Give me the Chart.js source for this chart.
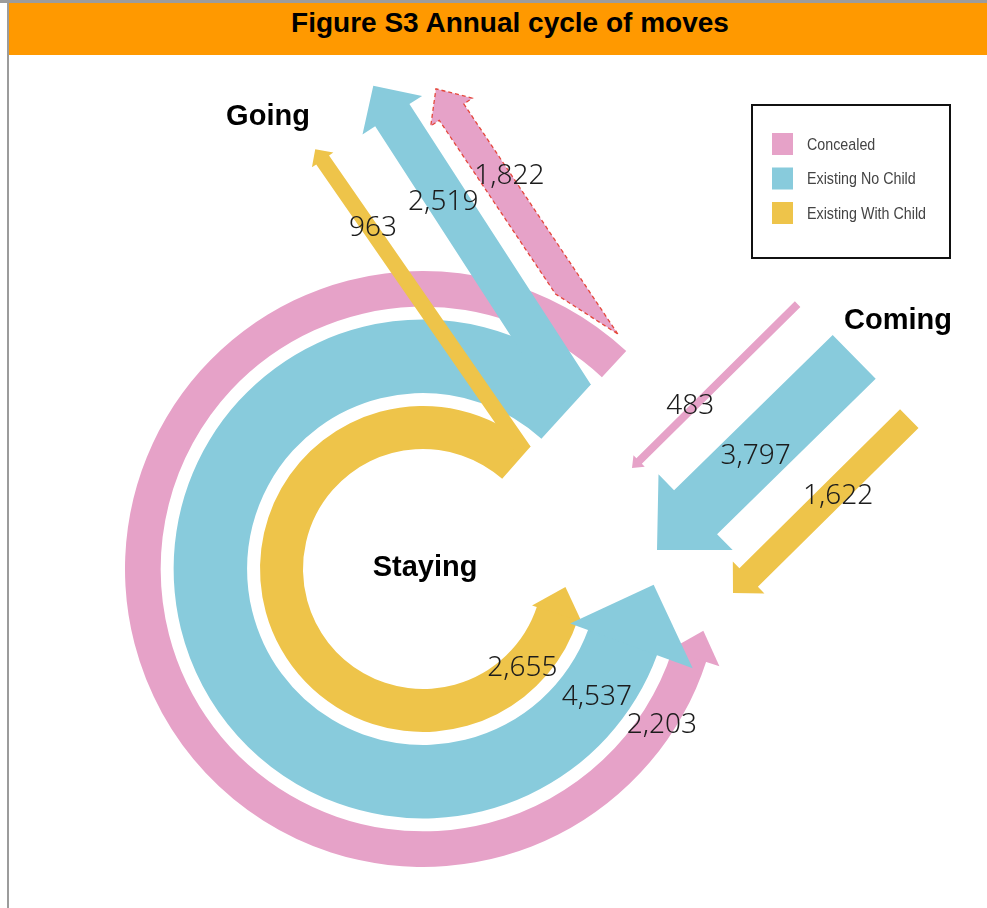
<!DOCTYPE html>
<html>
<head>
<meta charset="utf-8">
<script src="https://cdn.jsdelivr.net/npm/chart.js@4.4.1/dist/chart.umd.min.js"></script>
<style>
  html, body { margin: 0; padding: 0; background: #fff; }
  body { width: 987px; height: 908px; position: relative; overflow: hidden; }
  #frameTop { position: absolute; left: 0; top: 0; width: 987px; height: 3px; background: #9c9c9c; }
  #frameLeft { position: absolute; left: 7px; top: 0; width: 2px; height: 908px; background: #9c9c9c; }
  #header {
    position: absolute; left: 9px; top: 3px; width: 978px; height: 52px;
    box-sizing: border-box; padding-left: 24px;
    background: #ff9900; color: #000; text-align: center;
    font: bold 28px "Liberation Sans", Arial, sans-serif; line-height: 40px;
  }
  canvas { position: absolute; left: 0; top: 0; }
</style>
</head>
<body>
<div id="frameTop"></div>
<div id="frameLeft"></div>
<div id="header">Figure S3 Annual cycle of moves</div>
<canvas id="cycle" width="987" height="908"></canvas>
<script>
const groups = ["Concealed", "Existing No Child", "Existing With Child"];
const flows = ["Going", "Staying", "Coming"];
const staying = [2203, 4537, 2655];
const going = [1822, 2519, 963];
const coming = [483, 3797, 1622];

const colours = ["#e6a2c8", "#88cbdc", "#eec44a"];
const ringGap = 800; // white band between rings, same units as the counts

// ring ends, canvas degrees (clockwise from 3 o'clock)
const ringLayout = [
    { start: 18, end: 313, head: { inExt: 3, outExt: 14, len: 28 } },
    { start: 20, end: 312.3, head: { inExt: 19, outExt: 38, len: 64 } },
    { start: 18, end: 311.3, head: { inExt: 5, outExt: 4, len: 27 } }
];
const goingLayout = [
    { anchor: "outside", angle: -10.3, gapR: 5, dir: 236.2, len: 243, headW: 50, headL: 28, label: [166, 15, 0] },
    { anchor: "corner", dir: 237.1, len: 334, headW: 71, headL: 35, label: [231, -5, 0] },
    { anchor: "corner", dir: 235.3, len: 354, headW: 26, headL: 13, label: [271, 3, 0] }
];
const comingLayout = [
    { tip: [209, -101], dir: 135.3, len: 223, headW: 16, headL: 10, label: [151, 0, -4] },
    { tip: [234, -19], dir: 135.6, len: 222, headW: 106, headL: 54, label: [138, 0, 3] },
    { tip: [310, 24], dir: 135.3, len: 226, headW: 45, headL: 22, label: [100, 0, 7] }
];
const stayLabels = [[33.1, 5], [36.3, 3], [45, -1]];

const ringIndex = [];
const datasets = [];
groups.forEach((name, i) => {
    if (i > 0) {
        datasets.push({
            label: "", data: [1], weight: ringGap,
            backgroundColor: "rgba(0,0,0,0)",
            rotation: 0, circumference: 360,
            borderWidth: 0, hoverBorderWidth: 0, hoverOffset: 0
        });
    }
    ringIndex.push(datasets.length);
    datasets.push({
        label: name, data: [staying[i]], weight: staying[i],
        backgroundColor: colours[i],
        rotation: ringLayout[i].start + 90,
        circumference: ringLayout[i].end - ringLayout[i].start,
        borderWidth: 0, hoverBorderWidth: 0, hoverOffset: 0
    });
});

const rad = d => d * Math.PI / 180;
const fmt = v => v.toLocaleString("en-US");

function arrowPath(ctx, sx, sy, theta, len, w, headW, headL, cut) {
    const dx = Math.cos(theta), dy = Math.sin(theta);
    const nx = -dy, ny = dx;
    let cx = nx, cy = ny, f = w / 2;
    if (cut !== undefined) {
        cx = Math.cos(cut); cy = Math.sin(cut);
        f = (w / 2) / (cx * nx + cy * ny);
    }
    const ex = sx + dx * len, ey = sy + dy * len;
    ctx.beginPath();
    ctx.moveTo(sx + cx * f, sy + cy * f);
    ctx.lineTo(ex + nx * w / 2, ey + ny * w / 2);
    ctx.lineTo(ex + nx * headW / 2, ey + ny * headW / 2);
    ctx.lineTo(ex + dx * headL, ey + dy * headL);
    ctx.lineTo(ex - nx * headW / 2, ey - ny * headW / 2);
    ctx.lineTo(ex - nx * w / 2, ey - ny * w / 2);
    ctx.lineTo(sx - cx * f, sy - cy * f);
    ctx.closePath();
}

function stayingHead(ctx, arc, h) {
    const a = arc.startAngle, ca = Math.cos(a), sa = Math.sin(a);
    const tx = sa, ty = -ca; // travel direction (anticlockwise)
    const r1 = arc.innerRadius - h.inExt, r2 = arc.outerRadius + h.outExt, rm = (r1 + r2) / 2;
    ctx.beginPath();
    ctx.moveTo(arc.x + r1 * ca - tx, arc.y + r1 * sa - ty);
    ctx.lineTo(arc.x + r2 * ca - tx, arc.y + r2 * sa - ty);
    ctx.lineTo(arc.x + rm * ca + tx * h.len, arc.y + rm * sa + ty * h.len);
    ctx.closePath();
    ctx.fill();
}

function text(ctx, str, x, y, font, colour) {
    ctx.font = font;
    ctx.fillStyle = colour;
    ctx.textAlign = "center";
    ctx.textBaseline = "middle";
    ctx.fillText(str, x, y);
}

const flowPlugin = {
    id: "flows",
    afterDatasetsDraw(chart) {
        const ctx = chart.ctx;
        const arcs = ringIndex.map(i => chart.getDatasetMeta(i).data[0]);
        const k = (arcs[0].outerRadius - arcs[0].innerRadius) / staying[0]; // px per person
        const cx0 = arcs[0].x, cy0 = arcs[0].y;
        const numFont = "300 28px 'Noto Sans', sans-serif";
        const ink = "#1c1c1c";
        const goLabels = [];

        ctx.save();
        [0, 2, 1].forEach(i => {
            const arc = arcs[i], g = goingLayout[i];
            ctx.fillStyle = colours[i];
            stayingHead(ctx, arc, ringLayout[i].head);

            const w = going[i] * k, th = rad(g.dir);
            const nx = -Math.sin(th), ny = Math.cos(th);
            let sx, sy, cut;
            if (g.anchor === "corner") {
                const a = arc.endAngle;
                sx = arc.x + arc.outerRadius * Math.cos(a) - nx * w / 2;
                sy = arc.y + arc.outerRadius * Math.sin(a) - ny * w / 2;
            } else {
                const a = arc.endAngle + rad(g.angle), r = arc.outerRadius + g.gapR;
                sx = arc.x + r * Math.cos(a);
                sy = arc.y + r * Math.sin(a);
                cut = a + Math.PI / 2;
            }
            arrowPath(ctx, sx, sy, th, g.len, w, g.headW, g.headL, cut);
            ctx.fill();
            if (i === 0) {
                ctx.setLineDash([4, 3]);
                ctx.lineWidth = 1.3;
                ctx.strokeStyle = "#e4473c";
                ctx.stroke();
                ctx.setLineDash([]);
            }
            const t = g.label[0];
            goLabels[i] = [sx + Math.cos(th) * t + g.label[1], sy + Math.sin(th) * t + g.label[2]];
        });

        coming.forEach((v, i) => {
            const c = comingLayout[i], th = rad(c.dir);
            const tipX = cx0 + c.tip[0], tipY = cy0 + c.tip[1];
            const sx = tipX - Math.cos(th) * (c.len + c.headL);
            const sy = tipY - Math.sin(th) * (c.len + c.headL);
            ctx.fillStyle = colours[i];
            arrowPath(ctx, sx, sy, th, c.len, v * k, c.headW, c.headL);
            ctx.fill();
            const t = c.label[0];
            text(ctx, fmt(v), sx + Math.cos(th) * t + c.label[1], sy + Math.sin(th) * t + c.label[2], numFont, ink);
        });

        going.forEach((v, i) => text(ctx, fmt(v), goLabels[i][0], goLabels[i][1], numFont, ink));

        staying.forEach((v, i) => {
            const arc = arcs[i], [ang, dr] = stayLabels[i];
            const r = (arc.innerRadius + arc.outerRadius) / 2 + dr;
            text(ctx, fmt(v), arc.x + r * Math.cos(rad(ang)), arc.y + r * Math.sin(rad(ang)), numFont, ink);
        });

        const bold = "bold 29px 'Liberation Sans', Arial, sans-serif";
        text(ctx, flows[0], cx0 - 155, cy0 - 452, bold, "#000");
        text(ctx, flows[1], cx0 + 2, cy0 - 1, bold, "#000");
        text(ctx, flows[2], cx0 + 475, cy0 - 248, bold, "#000");

        // legend
        ctx.lineWidth = 2;
        ctx.strokeStyle = "#111";
        ctx.strokeRect(752, 105, 198, 153);
        groups.forEach((name, i) => {
            const y = 133 + i * 34.5;
            ctx.fillStyle = colours[i];
            ctx.fillRect(772, y, 21, 22);
            ctx.save();
            ctx.translate(807, y + 12);
            ctx.scale(0.84, 1);
            ctx.font = "17px 'Liberation Sans', Arial, sans-serif";
            ctx.fillStyle = "#444";
            ctx.textAlign = "left";
            ctx.textBaseline = "middle";
            ctx.fillText(name, 0, 0);
            ctx.restore();
        });
        ctx.restore();
    }
};

new Chart(document.getElementById("cycle"), {
    type: "doughnut",
    data: { labels: [flows[1]], datasets: datasets },
    options: {
        responsive: false,
        animation: false,
        events: [],
        cutout: 120,
        layout: { padding: { left: 125, top: 271, right: 266, bottom: 41 } },
        elements: { arc: { borderWidth: 0, hoverBorderWidth: 0, hoverOffset: 0, offset: 0 } },
        plugins: {
            legend: { display: false },
            tooltip: { enabled: false }
        }
    },
    plugins: [flowPlugin]
});
</script>
</body>
</html>
